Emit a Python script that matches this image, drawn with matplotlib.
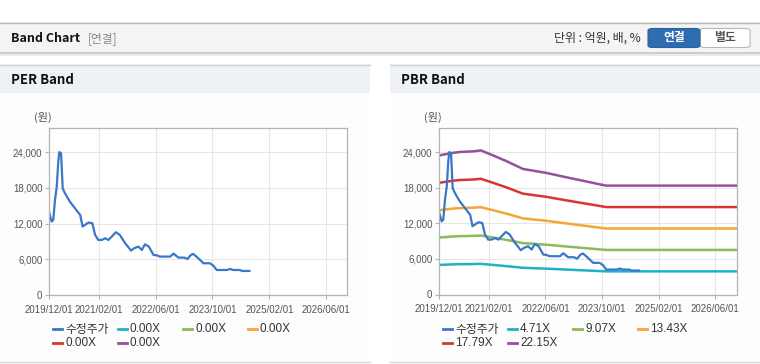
import matplotlib
matplotlib.use("Agg")
import matplotlib.pyplot as plt
import matplotlib.dates as mdates
import pandas as pd
from matplotlib.patches import Rectangle, FancyBboxPatch
from matplotlib.lines import Line2D
from matplotlib.ticker import FuncFormatter

plt.rcParams['font.family'] = ['Liberation Sans', 'Noto Sans CJK KR']

# adjusted share price (수정주가)
price_dates = ['2019-12-01', '2019-12-21', '2020-01-04', '2020-01-19', '2020-02-03',
               '2020-02-16', '2020-02-25', '2020-03-11', '2020-03-25', '2020-04-13',
               '2020-05-25', '2020-07-07', '2020-08-22', '2020-09-12', '2020-10-04',
               '2020-11-01', '2020-12-04', '2020-12-28', '2021-01-24', '2021-02-24',
               '2021-03-23', '2021-04-22', '2021-05-19', '2021-06-25', '2021-07-28',
               '2021-09-12', '2021-11-01', '2021-11-28', '2022-01-03', '2022-02-02',
               '2022-03-01', '2022-04-03', '2022-05-13', '2022-06-09', '2022-07-07',
               '2022-10-04', '2022-11-01', '2022-12-13', '2023-02-01', '2023-02-28',
               '2023-03-30', '2023-04-20', '2023-06-01', '2023-07-16', '2023-09-09',
               '2023-10-09', '2023-11-06', '2024-02-01', '2024-03-01', '2024-03-28',
               '2024-05-25', '2024-06-09', '2024-08-13']
price_values = [13740, 12330, 12600, 16000, 18200, 22400, 24000, 23800, 17900, 17100,
                15700, 14600, 13450, 11500, 11800, 12170, 12050, 10100, 9250, 9250,
                9530, 9250, 9800, 10540, 10100, 8700, 7460, 7850, 8130, 7570,
                8520, 8130, 6730, 6670, 6450, 6450, 6950, 6280, 6280, 6050,
                6730, 6900, 6170, 5330, 5330, 4930, 4200, 4200, 4370, 4200,
                4200, 4040, 4040]

# book value per share behind the PBR band
bps_dates = ['2019-12-01', '2020-03-16', '2020-05-25', '2020-09-19', '2020-11-22',
             '2021-03-07', '2021-07-01', '2021-11-19', '2022-06-07', '2022-11-25',
             '2023-05-16', '2023-11-04', '2026-12-01']
bps_values = [1058, 1076, 1084, 1089, 1096, 1058, 1014, 955, 925, 892, 860, 828, 828]

pbr_multiples = [4.71, 9.07, 13.43, 17.79, 22.15]
per_labels = ['0.00X', '0.00X', '0.00X', '0.00X', '0.00X']
pbr_labels = ['%.2fX' % m for m in pbr_multiples]

x_ticks = ['2019-12-01', '2021-02-01', '2022-06-01', '2023-10-01', '2025-02-01', '2026-06-01']
y_ticks = [0, 6000, 12000, 18000, 24000]

price_color = '#3a77c9'
band_colors = ['#1fb1c6', '#8cba57', '#f4a636', '#d73532', '#97509c']

W, H = 760, 364
fig = plt.figure(figsize=(W / 100, H / 100), dpi=100)


def box(x0, y0, x1, y1, **kw):
    fig.add_artist(Rectangle((x0 / W, 1 - y1 / H), (x1 - x0) / W, (y1 - y0) / H,
                             transform=fig.transFigure, zorder=-5, **kw))


def hline(x0, x1, y, color, lw=1.0):
    fig.add_artist(Line2D([x0 / W, x1 / W], [1 - y / H, 1 - y / H],
                          transform=fig.transFigure, color=color, lw=lw, zorder=-4))


def text(x, y, s, **kw):
    fig.text(x / W, 1 - y / H, s, **kw)


# header bar
box(0, 22, W, 53, facecolor='#f4f4f4', edgecolor='none')
hline(0, W, 22.5, '#b9b9b9')
hline(0, W, 53, '#c4c4c4', lw=1.2)
hline(0, W, 54.5, '#e6e6e6', lw=1.2)
text(11, 38.5, 'Band Chart', fontsize=9, fontweight='bold', color='#111111',
     family=['Noto Sans CJK KR'], va='center')
text(88, 38.5, '[연결]', fontsize=8.5, color='#8a8a8a', family=['Noto Sans CJK KR'], va='center')
text(641, 38.5, '단위 : 억원, 배, %', fontsize=8.6, color='#333333',
     family=['Noto Sans CJK KR'], va='center', ha='right')
fig.add_artist(FancyBboxPatch((700 / W, 1 - 47.5 / H), 50 / W, 19 / H,
                              boxstyle='round,pad=0,rounding_size=0.006',
                              transform=fig.transFigure, facecolor='white',
                              edgecolor='#b8b8b8', lw=0.8))
fig.add_artist(FancyBboxPatch((648 / W, 1 - 47.5 / H), 52 / W, 19 / H,
                              boxstyle='round,pad=0,rounding_size=0.006',
                              transform=fig.transFigure, facecolor='#2f6db2',
                              edgecolor='#2a629f', lw=0.8))
text(674, 38, '연결', fontsize=8.5, fontweight='bold', color='white',
     family=['Noto Sans CJK KR'], va='center', ha='center')
text(725, 38, '별도', fontsize=8.5, fontweight='bold', color='#555555',
     family=['Noto Sans CJK KR'], va='center', ha='center')

# panels
panels = [(0, 370, 'PER Band'), (390, 760, 'PBR Band')]
for px0, px1, title in panels:
    box(px0, 64, px1, 362, facecolor='#fdfdfd', edgecolor='none')
    box(px0, 64, px1, 93, facecolor='#eef2f7', edgecolor='none')
    hline(px0, px1, 64.5, '#d2d2d2')
    hline(px0, px1, 361.5, '#d8d8d8')
    text(px0 + 11, 79.5, title, fontsize=9.5, fontweight='bold', color='#111111',
         family=['Noto Sans CJK KR'], va='center')

p_dates = pd.to_datetime(price_dates)
b_dates = pd.to_datetime(bps_dates)
tick_dates = pd.to_datetime(x_ticks)


def setup_axes(rect):
    x0, y0, x1, y1 = rect
    ax = fig.add_axes([x0 / W, 1 - y1 / H, (x1 - x0) / W, (y1 - y0) / H])
    ax.set_facecolor('white')
    ax.set_xlim(pd.Timestamp('2019-12-01'), pd.Timestamp('2026-12-01'))
    ax.set_ylim(0, 28000)
    ax.set_xticks(tick_dates)
    ax.xaxis.set_major_formatter(mdates.DateFormatter('%Y/%m/%d'))
    ax.set_yticks(y_ticks)
    ax.yaxis.set_major_formatter(FuncFormatter(lambda v, p: '{:,}'.format(int(v))))
    ax.grid(True, color='#e6e6e6', lw=0.8)
    ax.set_axisbelow(True)
    for s in ax.spines.values():
        s.set_color('#b4b4b4')
        s.set_linewidth(0.9)
    ax.tick_params(length=3, width=0.8, color='#b4b4b4', labelsize=7, labelcolor='#555555')
    ax.tick_params(axis='x', pad=4)
    ax.tick_params(axis='y', pad=2)
    ax.text(-0.021, 1.068, '(원)', transform=ax.transAxes, fontsize=8, color='#555555',
            family=['Noto Sans CJK KR'], ha='center', va='center')
    return ax


def draw_legend(x0, labels):
    entries = [('수정주가', price_color)] + list(zip(labels, band_colors))
    for i, (lab, col) in enumerate(entries):
        cx = x0 + (i % 4) * 65
        cy = 329 + (i // 4) * 14
        fig.add_artist(Line2D([cx / W, (cx + 9) / W], [1 - cy / H, 1 - cy / H],
                              transform=fig.transFigure, color=col, lw=2))
        text(cx + 12, cy + 0.5, lab, fontsize=8.5, color='#333333', va='center')


# PER band
ax1 = setup_axes((49.3, 128.3, 347.3, 295))
ax1.plot(p_dates, price_values, color=price_color, lw=1.6)
draw_legend(53, per_labels)

# PBR band
ax2 = setup_axes((439.3, 128.3, 736.7, 294.5))
for m, col in zip(pbr_multiples, band_colors):
    ax2.plot(b_dates, [m * b for b in bps_values], color=col, lw=1.8)
ax2.plot(p_dates, price_values, color=price_color, lw=1.6)
draw_legend(443, pbr_labels)

fig.savefig('out.png', dpi=100, facecolor='white')
